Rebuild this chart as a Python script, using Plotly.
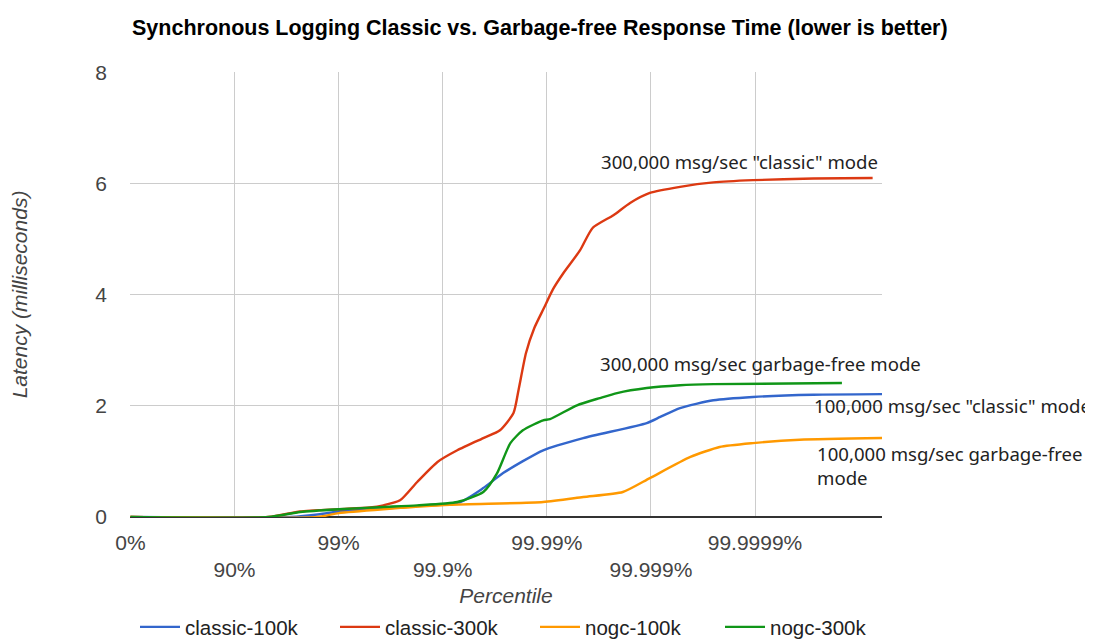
import plotly.graph_objects as go

# x positions in "number of nines" (0 = 0%, 1 = 90%, 2 = 99%, ...)
tick_vals = [0, 1, 2, 3, 4, 5, 6]
tick_labels = ["0%", "90%", "99%", "99.9%", "99.99%", "99.999%", "99.9999%"]
y_ticks = [0, 2, 4, 6, 8]

classic_100k_x = [0, 1.54, 1.82, 2.0, 2.43, 2.78, 3.17, 3.39, 3.58, 3.965, 4.35, 4.96, 5.09, 5.28, 5.6, 5.98, 6.56, 7.22]
classic_100k_y = [0, 0, 0.05, 0.1, 0.15, 0.2, 0.27, 0.52, 0.79, 1.2, 1.42, 1.69, 1.8, 1.96, 2.1, 2.16, 2.2, 2.21]

classic_300k_x = [0, 1.325, 1.63, 2.0, 2.3, 2.43, 2.59, 2.755, 2.95, 3.14, 3.39, 3.55, 3.68, 3.73, 3.80, 3.88, 3.97, 4.06, 4.16, 4.32, 4.44, 4.64, 4.8, 4.99, 5.28, 5.6, 5.98, 6.56, 7.13]
classic_300k_y = [0, 0, 0.1, 0.14, 0.17, 0.21, 0.3, 0.63, 0.99, 1.2, 1.42, 1.56, 1.87, 2.3, 2.95, 3.4, 3.75, 4.1, 4.39, 4.8, 5.2, 5.43, 5.65, 5.83, 5.94, 6.02, 6.06, 6.09, 6.1]

nogc_100k_x = [0, 1.8, 2.0, 2.43, 3.07, 3.965, 4.35, 4.73, 4.99, 5.38, 5.66, 5.98, 6.43, 7.22]
nogc_100k_y = [0, 0, 0.07, 0.14, 0.22, 0.27, 0.36, 0.45, 0.7, 1.08, 1.26, 1.33, 1.39, 1.42]

nogc_300k_x = [0, 1.325, 1.63, 2.0, 2.43, 2.755, 3.14, 3.39, 3.52, 3.65, 3.77, 3.965, 4.03, 4.29, 4.51, 4.675, 4.96, 5.28, 5.6, 6.835]
nogc_300k_y = [0, 0, 0.09, 0.14, 0.18, 0.21, 0.27, 0.45, 0.78, 1.33, 1.56, 1.74, 1.76, 2.01, 2.14, 2.23, 2.32, 2.37, 2.39, 2.41]

series = [
    ("classic-100k", classic_100k_x, classic_100k_y, "#3366cc"),
    ("classic-300k", classic_300k_x, classic_300k_y, "#dc3912"),
    ("nogc-100k", nogc_100k_x, nogc_100k_y, "#ff9900"),
    ("nogc-300k", nogc_300k_x, nogc_300k_y, "#109618"),
]

# page body has an 8px default margin; size the figure to fit the window
OFF = 8
W, H = 1093 - OFF, 642 - OFF
legend_left = [135, 335, 535, 720]   # page pixels of each legend entry
legend_names = ["legend", "legend2", "legend3", "legend4"]

fig = go.Figure()
for (name, xs, ys, col), lg in zip(series, legend_names):
    fig.add_trace(go.Scatter(x=xs, y=ys, name=name, mode="lines", legend=lg,
                             line=dict(color=col, width=2.4, shape="spline", smoothing=0.6)))

ann_font = dict(family="Noto Sans, Open Sans, sans-serif", size=18.6, color="#222222")
annotations = [
    dict(x=7.2, y=6.4, text='300,000 msg/sec "classic" mode', xanchor="right"),
    dict(x=4.49, y=2.77, text="300,000 msg/sec garbage-free mode", xanchor="left"),
    dict(x=6.55, y=2.0, text='100,000 msg/sec "classic" mode', xanchor="left"),
    dict(x=6.58, y=0.93, text="100,000 msg/sec garbage-free<br>mode", xanchor="left"),
]
for a in annotations:
    fig.add_annotation(xref="x", yref="y", showarrow=False, align="left",
                       yanchor="middle", font=ann_font, **a)

ticktext = [t if i % 2 == 0 else "<br>" + t for i, t in enumerate(tick_labels)]

legend_layout = {}
for lg, lx in zip(legend_names, legend_left):
    legend_layout[lg] = dict(orientation="h", xref="container", yref="container",
                             x=(lx - OFF) / W, xanchor="left", y=(642 - 627) / H, yanchor="middle",
                             itemwidth=40,
                             font=dict(size=20.5, color="#222222"), bgcolor="rgba(0,0,0,0)")

fig.update_layout(
    width=W, height=H,
    margin=dict(l=130 - OFF, r=W - (882 - OFF), t=72 - OFF, b=H - (517 - OFF), autoexpand=False),
    paper_bgcolor="white", plot_bgcolor="white",
    font=dict(family="Arial, Liberation Sans, sans-serif", color="#444444", size=21),
    title=dict(text="<b>Synchronous Logging Classic vs. Garbage-free Response Time (lower is better)</b>",
               x=(132 - OFF) / W, xanchor="left", y=1 - (27 - OFF) / H, yanchor="middle",
               font=dict(size=21.5, color="#000000")),
    showlegend=True,
    xaxis=dict(range=[-0.004, 7.22], tickmode="array", tickvals=tick_vals, ticktext=ticktext,
               showgrid=True, gridcolor="#cccccc", gridwidth=1, zeroline=False,
               showline=False, ticks="", ticklabelstandoff=11, tickfont=dict(size=21, color="#444444"),
               automargin=False,
               title=dict(text="<i>Percentile</i>", font=dict(size=21, color="#444444"), standoff=27),
               fixedrange=True),
    yaxis=dict(range=[0, 8.006], tickmode="array", tickvals=y_ticks,
               showgrid=True, gridcolor="#cccccc", gridwidth=1,
               zeroline=True, zerolinecolor="#333333", zerolinewidth=1.5,
               showline=False, ticks="", ticklabelstandoff=22, tickfont=dict(size=21, color="#444444"),
               automargin=False,
               title=dict(text="<i>Latency (milliseconds)</i>", font=dict(size=21, color="#444444"), standoff=64),
               fixedrange=True),
    **legend_layout,
)

fig.write_html("out.html")
